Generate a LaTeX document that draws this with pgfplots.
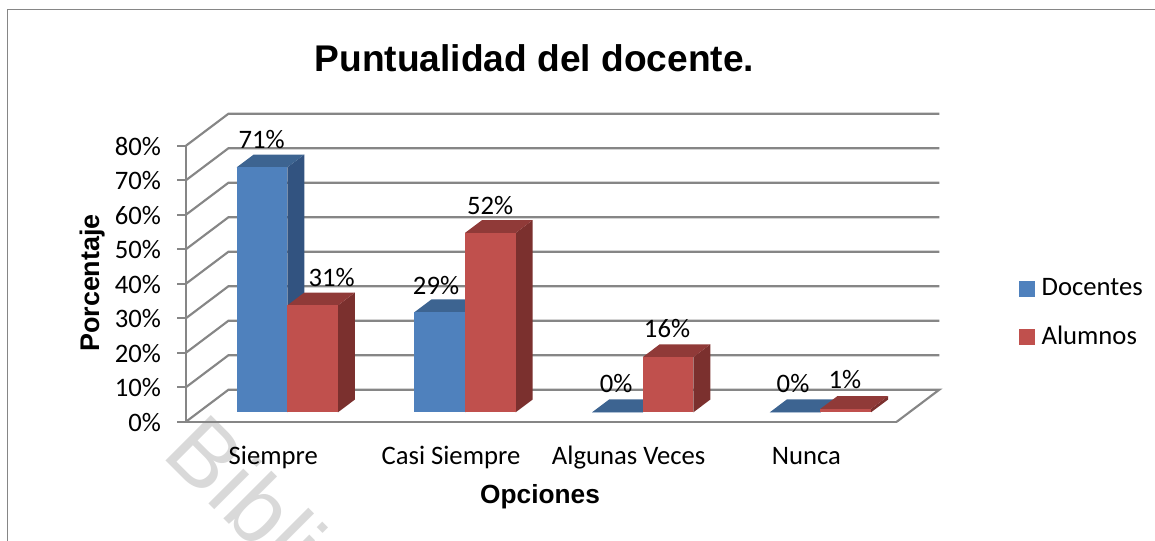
\documentclass[border=0pt]{standalone}
\usepackage{pgfplots}
\pgfplotsset{compat=1.18}
\usepackage{fontspec}
\setmainfont{Carlito}
\newfontfamily\arialf{Liberation Sans}
\definecolor{gridc}{HTML}{868686}
\definecolor{blueF}{HTML}{4F81BD}
\definecolor{blueS}{HTML}{325380}
\definecolor{blueT}{HTML}{3D6491}
\definecolor{redF}{HTML}{C0504D}
\definecolor{redS}{HTML}{7B302E}
\definecolor{redT}{HTML}{903A38}
% x0, x1, value, front, side, top
\newcommand\threeDbar[6]{%
  \addplot3[fill=#5,draw=none,forget plot] coordinates {(#2,0.294,0)(#2,0.694,0)(#2,0.694,#3)(#2,0.294,#3)} --cycle;
  \addplot3[fill=#6,draw=none,forget plot] coordinates {(#1,0.294,#3)(#2,0.294,#3)(#2,0.694,#3)(#1,0.694,#3)} --cycle;
  \addplot3[fill=#4,draw=none,forget plot] coordinates {(#1,0.294,0)(#2,0.294,0)(#2,0.294,#3)(#1,0.294,#3)} --cycle;
}
\newcommand\wall[1]{\addplot3[gridc,line width=1.6pt,no marks,forget plot] coordinates {(0,0,#1)(0,1,#1)(4,1,#1)};}
\begin{document}
\begin{tikzpicture}[x=0.75pt,y=0.75pt]
\path[use as bounding box] (0,0) rectangle (1155,541);
% watermark
\begin{scope}
\clip (0,0) rectangle (1155,541);
\node[rotate=-45,anchor=base west,inner sep=0pt,text=black!15,font={\arialf\fontsize{70}{70}\selectfont}] at (160.5,85.5) {Biblioteca};
\end{scope}
% frame
\draw[gridc,line width=1.3pt] (7.5,0) -- (7.5,531.5) -- (1155,531.5);
% walls and bars
\begin{axis}[at={(139.5pt,89.475pt)},anchor=origin,hide axis,clip=false,
  x={(133.275pt,0pt)},y={(31.875pt,24pt)},z={(0pt,2.5875pt)},
  xmin=0,xmax=4,ymin=0,ymax=1,zmin=0,zmax=80]
\wall{10}\wall{20}\wall{30}\wall{40}\wall{50}\wall{60}\wall{70}\wall{80}
\addplot3[gridc,line width=1.6pt,no marks,forget plot] coordinates {(0,0,0)(0,1,0)(4,1,0)(4,0,0)};
\threeDbar{0.215}{0.5}{71}{blueF}{blueS}{blueT}
\threeDbar{0.5}{0.785}{31}{redF}{redS}{redT}
\threeDbar{1.215}{1.5}{29}{blueF}{blueS}{blueT}
\threeDbar{1.5}{1.785}{52}{redF}{redS}{redT}
\threeDbar{2.215}{2.5}{0}{blueF}{blueS}{blueT}
\threeDbar{2.5}{2.785}{16}{redF}{redS}{redT}
\threeDbar{3.215}{3.5}{0}{blueF}{blueS}{blueT}
\threeDbar{3.5}{3.785}{1}{redF}{redS}{redT}
\end{axis}
% scale, labels, title, legend
\begin{axis}[at={(139.5pt,89.475pt)},anchor=origin,clip=false,
  x=133.275pt,y=2.5875pt,
  xmin=0,xmax=4,ymin=0,ymax=80,
  axis y line=left,axis x line=bottom,
  axis line style={gridc,line width=1.6pt,-},
  ytick={0,10,...,80},yticklabel={\pgfmathprintnumber{\tick}\%},
  /pgf/number format/assume math mode=true,
  ytick style={gridc,line width=1.3pt},
  major tick length=6.75pt,
  tick align=outside,
  xtick={0.5,1.5,2.5,3.5},xtick style={draw=none},
  xticklabels={Siempre,Casi Siempre,Algunas Veces,Nunca},
  tick label style={font=\fontsize{20}{23}\selectfont},
  yticklabel style={xshift=-8.5pt,yshift=-0.5pt},
  xticklabel style={yshift=-25.5pt,xshift=-1.2pt,anchor=base,text depth=0pt},
  legend cell align=left,
  legend style={at={(1.1721,0.3945)},anchor=west,draw=none,fill=none,
    font=\fontsize{20}{23}\selectfont,row sep=17.25pt,inner sep=0pt},
  legend image code/.code={\fill[#1] (0pt,-5.6pt) rectangle (11.25pt,5.6pt);\path (14.25pt,0pt);},
]
\addlegendimage{blueF}\addlegendentry{Docentes}
\addlegendimage{redF}\addlegendentry{Alumnos}
\node[font=\fontsize{20}{23}\selectfont] at (axis cs:0.426,81.65) {71\%};
\node[font=\fontsize{20}{23}\selectfont] at (axis cs:0.820,41.65) {31\%};
\node[font=\fontsize{20}{23}\selectfont] at (axis cs:1.407,39.6) {29\%};
\node[font=\fontsize{20}{23}\selectfont] at (axis cs:1.711,62.8) {52\%};
\node[font=\fontsize{20}{23}\selectfont] at (axis cs:2.420,11.2) {0\%};
\node[font=\fontsize{20}{23}\selectfont] at (axis cs:2.707,26.9) {16\%};
\node[font=\fontsize{20}{23}\selectfont] at (axis cs:3.416,11.2) {0\%};
\node[font=\fontsize{20}{23}\selectfont] at (axis cs:3.708,12.1) {1\%};
\end{axis}
\node[font={\arialf\bfseries\fontsize{27.85}{30}\selectfont},anchor=base] at (534.5,469) {Puntualidad del docente.};
\node[font={\arialf\bfseries\fontsize{19.7}{23}\selectfont},anchor=base] at (540,37) {Opciones};
\node[font={\arialf\bfseries\fontsize{20.2}{23}\selectfont},rotate=90,anchor=base] at (99,258) {Porcentaje};
\end{tikzpicture}
\end{document}
